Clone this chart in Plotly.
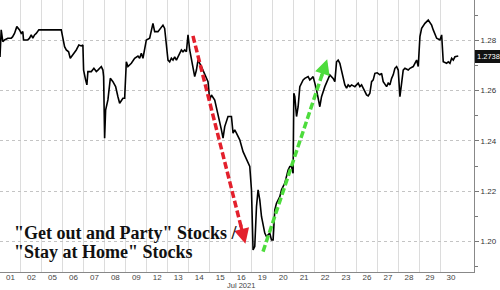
import plotly.graph_objects as go

# trading-day index (day i spans [i, i+1]) and ratio values
t = [0, 0.057, 0.134, 0.215, 0.372, 0.535, 0.597, 0.692, 0.802, 0.931, 1.012, 1.088, 1.122, 1.327, 1.408,
     1.489, 1.566, 1.647, 1.728, 1.852, 2.921, 2.997, 3.079, 3.160, 3.270, 3.351, 3.475, 3.637, 3.761, 3.876,
     3.952, 3.986, 4.081, 4.143, 4.191, 4.353, 4.477, 4.592, 4.668, 4.749, 4.830, 4.907, 4.940, 4.988, 5.036,
     5.145, 5.260, 5.384, 5.513, 5.623, 5.704, 5.861, 5.943, 6.024, 6.100, 6.262, 6.420, 6.577, 6.658, 6.739,
     6.816, 6.978, 7.136, 7.293, 7.374, 7.532, 7.694, 7.770, 7.851, 8.009, 8.090, 8.171, 8.248, 8.329, 8.410,
     8.567, 8.649, 8.725, 8.806, 8.887, 8.964, 9.045, 9.202, 9.283, 9.365, 9.441, 9.603, 9.761, 9.918, 9.999,
     10.080, 10.238, 10.395, 10.557, 10.634, 10.715, 10.872, 11.035, 11.111, 11.192, 11.274, 11.431, 11.589,
     11.751, 11.909, 11.990, 12.066, 12.147, 12.229, 12.305, 12.386, 12.467, 12.543, 12.624, 12.705, 12.863,
     12.944, 13.021, 13.102, 13.183, 13.341, 13.422, 13.579, 13.737, 13.818, 13.899, 13.975, 14.009, 14.057,
     14.138, 14.214, 14.295, 14.453, 14.534, 14.691, 14.772, 14.853, 14.930, 15.011, 15.092, 15.249, 15.331,
     15.488, 15.646, 15.727, 15.884, 15.965, 16.047, 16.123, 16.204, 16.362, 16.443, 16.524, 16.600, 16.681,
     16.763, 16.920, 17.078, 17.159, 17.240, 17.317, 17.398, 17.479, 17.555, 17.636, 17.717, 17.794, 17.875,
     17.985, 18.113, 18.194, 18.271, 18.352, 18.433, 18.509, 18.590, 18.672, 18.748, 18.829, 18.910, 18.987,
     19.068, 19.149, 19.225, 19.306, 19.464, 19.545, 19.702, 19.783, 19.865, 19.941, 20.022, 20.103, 20.261,
     20.418, 20.580, 20.657, 20.819, 20.976, 21.058, 21.134, 21.296, 21.373, 21.454, 21.535, 21.611, 21.692,
     21.773, 21.849]
ratio = [1.2734, 1.2842, 1.2795, 1.2802, 1.2809, 1.2809, 1.2814, 1.2828, 1.2855, 1.2842, 1.2828, 1.2835, 1.2802,
         1.2802, 1.2809, 1.2822, 1.2809, 1.2822, 1.2828, 1.2842, 1.2842, 1.2809, 1.2775, 1.2762, 1.2755, 1.2729,
         1.2742, 1.2762, 1.2782, 1.2778, 1.2782, 1.2682, 1.2643, 1.2623, 1.2676, 1.2676, 1.2689, 1.2676, 1.2682,
         1.2689, 1.2696, 1.2682, 1.2656, 1.2411, 1.2523, 1.2563, 1.2649, 1.2636, 1.2616, 1.2576, 1.2550, 1.2570,
         1.2570, 1.2715, 1.2696, 1.2709, 1.2729, 1.2738, 1.2729, 1.2749, 1.2729, 1.2802, 1.2809, 1.2868, 1.2835,
         1.2835, 1.2855, 1.2861, 1.2848, 1.2722, 1.2715, 1.2729, 1.2722, 1.2735, 1.2722, 1.2749, 1.2762, 1.2755,
         1.2762, 1.2755, 1.2822, 1.2762, 1.2696, 1.2656, 1.2682, 1.2722, 1.2696, 1.2663, 1.2636, 1.2563, 1.2583,
         1.2563, 1.2510, 1.2444, 1.2411, 1.2457, 1.2497, 1.2497, 1.2431, 1.2444, 1.2431, 1.2404, 1.2357, 1.2324,
         1.2298, 1.2205, 1.1966, 1.1979, 1.2138, 1.2205, 1.2165, 1.2099, 1.2072, 1.2033, 1.2019, 1.2033, 1.2006,
         1.2006, 1.2125, 1.2152, 1.2178, 1.2205, 1.2232, 1.2284, 1.2298, 1.2298, 1.2271, 1.2590, 1.2576, 1.2497,
         1.2536, 1.2616, 1.2643, 1.2649, 1.2656, 1.2643, 1.2649, 1.2656, 1.2630, 1.2603, 1.2536, 1.2576, 1.2616,
         1.2643, 1.2663, 1.2649, 1.2636, 1.2715, 1.2722, 1.2709, 1.2649, 1.2623, 1.2610, 1.2623, 1.2616, 1.2623,
         1.2616, 1.2630, 1.2616, 1.2623, 1.2610, 1.2596, 1.2583, 1.2579, 1.2590, 1.2636, 1.2643, 1.2669, 1.2671,
         1.2663, 1.2669, 1.2636, 1.2623, 1.2616, 1.2630, 1.2623, 1.2649, 1.2663, 1.2689, 1.2696, 1.2682, 1.2576,
         1.2630, 1.2682, 1.2689, 1.2682, 1.2689, 1.2696, 1.2709, 1.2722, 1.2696, 1.2815, 1.2848, 1.2868, 1.2881,
         1.2861, 1.2842, 1.2809, 1.2802, 1.2822, 1.2715, 1.2709, 1.2715, 1.2709, 1.2729, 1.2722, 1.2735, 1.2736,
         1.2738]

day_labels = ["01", "02", "05", "06", "07", "08", "09", "12", "13", "14", "15", "16",
              "19", "20", "21", "22", "23", "26", "27", "28", "29", "30"]
month_label = "Jul 2021"
month_day_index = 11  # under "16"
last_value = "1.2738"

# trend arrows (start, end) in data units
red_t = [9.20, 11.70]
red_v = [1.2818, 1.1990]
green_t = [12.54, 15.60]
green_v = [1.1959, 1.2725]

title_lines = ['"Get out and Party" Stocks /', '"Stay at Home" Stocks']

fig = go.Figure()
fig.add_trace(go.Scatter(x=t, y=ratio, mode="lines",
                         line=dict(color="#000000", width=1.6), hoverinfo="skip"))

arrows = [(red_t, red_v, "#e3202c"), (green_t, green_v, "#4ddc3c")]
for xs, ys, col in arrows:
    f = 0.93
    xm = xs[0] + (xs[1] - xs[0]) * f
    ym = ys[0] + (ys[1] - ys[0]) * f
    fig.add_trace(go.Scatter(
        x=[xs[0], xm], y=[ys[0], ym], mode="lines",
        line=dict(color=col, width=3.5, dash="7px,3px"),
        hoverinfo="skip"))
    f2 = 0.90
    fig.add_annotation(x=xs[1], y=ys[1], xref="x", yref="y",
                       ax=xs[0] + (xs[1] - xs[0]) * f2, ay=ys[0] + (ys[1] - ys[0]) * f2,
                       axref="x", ayref="y", text="", showarrow=True,
                       arrowhead=2, arrowsize=0.95, arrowwidth=3.2, arrowcolor=col)

tickvals = [i + 0.5 for i in range(len(day_labels))]

fig.update_layout(
    width=500, height=290,
    margin=dict(l=0, r=26, t=0, b=18),
    paper_bgcolor="white", plot_bgcolor="white",
    showlegend=False,
    xaxis=dict(range=[0, 22.6], tickvals=tickvals, ticktext=day_labels,
               showgrid=False, zeroline=False, tickangle=0, automargin=False,
               tickfont=dict(family="Arial, Liberation Sans", size=8, color="#444"),
               ticks="", ticklen=0, ticklabelstandoff=-3,
               showline=True, linecolor="#888", linewidth=1,
               minor=dict(tickvals=list(range(1, 22)), showgrid=True,
                          gridcolor="#dcdcdc", gridwidth=1, ticks="")),
    yaxis=dict(range=[1.1878, 1.2961], side="right", dtick=0.02, tick0=1.20,
               tickformat=".2f", showgrid=True, gridcolor="#c4c4c4", griddash="dot",
               gridwidth=1, zeroline=False, automargin=False,
               tickfont=dict(family="Arial, Liberation Sans", size=8, color="#333"),
               ticks="outside", ticklen=4, tickcolor="#777",
               showline=True, linecolor="#888", linewidth=1,
               minor=dict(dtick=0.01, tick0=1.19, ticks="outside", ticklen=3,
                          tickcolor="#777", showgrid=False)),
)

fig.add_annotation(x=month_day_index + 0.5, xref="x", y=0, yref="paper", yshift=-13.5,
                   text=month_label, showarrow=False, xanchor="center", yanchor="middle",
                   font=dict(family="Arial, Liberation Sans", size=7.5, color="#444"))

fig.add_annotation(x=1, xref="paper", y=float(last_value), yref="y",
                   text=last_value, showarrow=False, xanchor="left", xshift=1,
                   font=dict(family="Arial, Liberation Sans", size=7.5, color="white"),
                   bgcolor="#111111", bordercolor="#111111", borderpad=1)

for line, yp in zip(title_lines, [0.1434, 0.0724]):
    fig.add_annotation(x=0.026, xref="paper", y=yp, yref="paper", text="<b>" + line + "</b>",
                       showarrow=False, xanchor="left", yanchor="middle",
                       font=dict(family="Liberation Serif, serif", size=18, color="#111"))

fig.write_html("out.html")
